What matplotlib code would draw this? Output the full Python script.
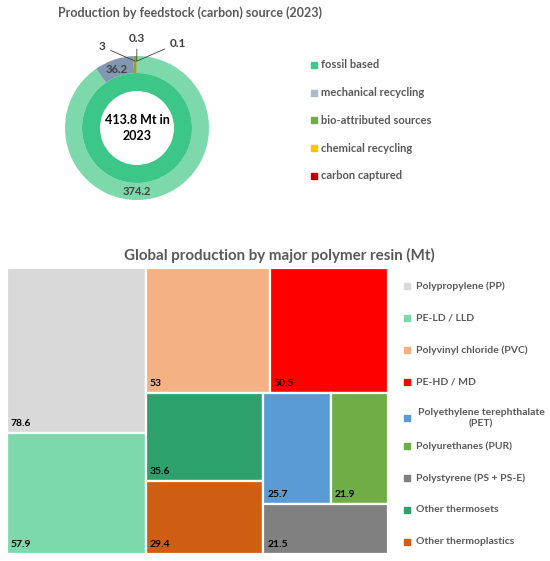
from matplotlib import pyplot as plt
from matplotlib.patches import Rectangle
import numpy as np

plt.rcParams['font.family'] = ['Lato', 'DejaVu Sans']

# --- data ---
feed_labels = ['fossil based', 'mechanical recycling', 'bio-attributed sources',
               'chemical recycling', 'carbon captured']
feed_values = [374.2, 36.2, 3, 0.3, 0.1]
feed_colors = ['#7DD9AC', '#8497B0', '#70AD47', '#FFC000', '#C00000']
legend_colors = ['#3DC98A', '#ADB9CA', '#70AD47', '#FFC000', '#C00000']
total_label = '413.8 Mt in\n2023'
total_value = 413.8

resin_labels = ['Polypropylene (PP)', 'PE-LD / LLD', 'Polyvinyl chloride (PVC)', 'PE-HD / MD',
                'Polyethylene terephthalate\n(PET)', 'Polyurethanes (PUR)',
                'Polystyrene (PS + PS-E)', 'Other thermosets', 'Other thermoplastics']
resin_values = [78.6, 57.9, 53, 50.5, 25.7, 21.9, 21.5, 35.6, 29.4]
resin_colors = ['#D9D9D9', '#7DD9AC', '#F4B183', '#FF0000', '#5B9BD5', '#70AD47',
                '#808080', '#2EA06C', '#D05E12']

TITLE_C = '#595959'
W, H = 550, 561


def fig_rect(x, y, w, h):
    # pixel box (top-left origin) -> figure fraction
    return [x / W, 1 - (y + h) / H, w / W, h / H]


def worst(row, side):
    s = sum(row)
    return max(max(side * side * r / (s * s), s * s / (side * side * r)) for r in row)


def squarify(vals, x, y, w, h):
    # classic squarified treemap, returns rects in order of vals
    rects = []
    vals = list(vals)
    while vals:
        side = min(w, h)
        row = [vals.pop(0)]
        while vals and worst(row + [vals[0]], side) <= worst(row, side):
            row.append(vals.pop(0))
        s = sum(row)
        if w >= h:
            cw = s / h
            cy = y
            for r in row:
                rh = r / cw
                rects.append((x, cy, cw, rh))
                cy += rh
            x += cw
            w -= cw
        else:
            rh = s / w
            cx = x
            for r in row:
                rw = r / rh
                rects.append((cx, y, rw, rh))
                cx += rw
            y += rh
            h -= rh
    return rects


fig = plt.figure(figsize=(W / 100, H / 100), dpi=100)

# --- donut ---
fig.text(190 / W, 1 - 13 / H, 'Production by feedstock (carbon) source (2023)',
         ha='center', va='center', fontsize=9, fontweight='bold', color=TITLE_C)

R = 72
ax1 = fig.add_axes(fig_rect(137 - 90, 128 - 90, 180, 180))
ax1.set_xlim(-90 / R, 90 / R)
ax1.set_ylim(-90 / R, 90 / R)
ax1.set_aspect('equal')
ax1.axis('off')

wedges, _ = ax1.pie(feed_values, colors=feed_colors, startangle=90, counterclock=False,
                    radius=1, wedgeprops=dict(width=17 / R, edgecolor='none'))
ax1.pie([total_value], colors=['#3CC687'], startangle=90, radius=55 / R,
        wedgeprops=dict(width=18 / R, edgecolor='none'))
ax1.text(0, 0, total_label, ha='center', va='center', fontsize=9,
         fontweight='bold', color='black', linespacing=1.35)

lab_c = '#404040'
ax1.text(0, -0.88, f'{feed_values[0]:g}', ha='center', va='center', fontsize=8,
         fontweight='bold', color=lab_c)
w = wedges[1]
mid = np.deg2rad((w.theta1 + w.theta2) / 2)
ax1.text(0.88 * np.cos(mid), 0.86 * np.sin(mid), f'{feed_values[1]:g}', ha='center',
         va='center', fontsize=8, fontweight='bold', color=lab_c)

text_pos = [(-0.44, 1.13), (0.0, 1.25), (0.46, 1.18)]
text_ha = ['right', 'center', 'left']
for w, v, (tx, ty), ha in zip(wedges[2:], feed_values[2:], text_pos, text_ha):
    mid = np.deg2rad((w.theta1 + w.theta2) / 2)
    ax1.annotate(f'{v:g}', xy=(0.93 * np.cos(mid), 0.93 * np.sin(mid)), xytext=(tx, ty),
                 ha=ha, va='center', fontsize=8.5, fontweight='bold', color=lab_c,
                 arrowprops=dict(arrowstyle='-', color='#404040', lw=0.6,
                                 shrinkA=2, shrinkB=0))

for i, (lab, col) in enumerate(zip(feed_labels, legend_colors)):
    yy = 65 + i * 27.7
    fig.patches.append(Rectangle((311 / W, 1 - (yy + 3) / H), 6 / W, 6 / H,
                                 transform=fig.transFigure, color=col))
    fig.text(321 / W, 1 - yy / H, lab, ha='left', va='center', fontsize=8,
             fontweight='bold', color=TITLE_C)

# --- treemap ---
fig.text(279 / W, 1 - 255 / H, 'Global production by major polymer resin (Mt)',
         ha='center', va='center', fontsize=10.9, fontweight='bold', color=TITLE_C)

TW, TH = 381, 286
ax2 = fig.add_axes(fig_rect(7, 268, TW, TH))
ax2.set_xlim(0, TW)
ax2.set_ylim(TH, 0)
ax2.axis('off')

order = np.argsort(resin_values)[::-1]
sorted_vals = [resin_values[i] for i in order]
scale = TW * TH / sum(resin_values)
rects = squarify([v * scale for v in sorted_vals], 0, 0, TW, TH)
for idx, (x, y, rw, rh) in zip(order, rects):
    ax2.add_patch(Rectangle((x, y), rw, rh, facecolor=resin_colors[idx],
                            edgecolor='white', linewidth=1.6))
    ax2.text(x + 4, y + rh - 5, f'{resin_values[idx]:g}', ha='left', va='bottom',
             fontsize=7.5, fontweight='bold', color='black')

for i, (lab, col) in enumerate(zip(resin_labels, resin_colors)):
    yy = 286 + i * 32
    if '\n' in lab:
        yy += 4
    fig.patches.append(Rectangle((404 / W, 1 - (yy + 3) / H), 6 / W, 6 / H,
                                 transform=fig.transFigure, color=col))
    if '\n' in lab:
        fig.text(481 / W, 1 - yy / H, lab, ha='center', va='center', fontsize=7.5,
                 fontweight='bold', color=TITLE_C, multialignment='center',
                 linespacing=1.35)
    else:
        fig.text(416 / W, 1 - yy / H, lab, ha='left', va='center', fontsize=7.5,
                 fontweight='bold', color=TITLE_C)

fig.savefig('out.png', dpi=100)
